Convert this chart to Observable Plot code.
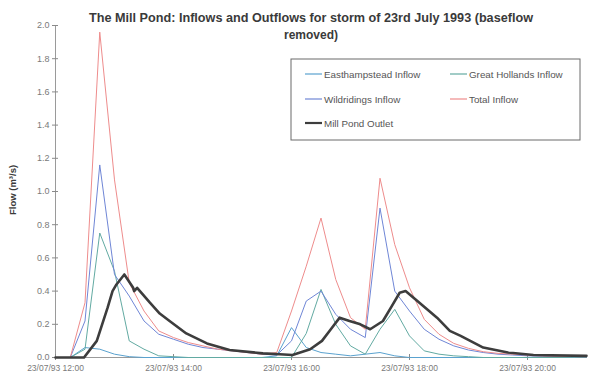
<!DOCTYPE html>
<html>
<head>
<meta charset="utf-8">
<script src="https://cdn.jsdelivr.net/npm/d3@7"></script>
<script src="https://cdn.jsdelivr.net/npm/@observablehq/plot@0.6"></script>
<style>
  html, body { margin: 0; padding: 0; background: #fff; }
  svg { display: block; }
</style>
</head>
<body>
<div id="chart"></div>
<script>
// ---- data ----
const titleLines = ["The Mill Pond: Inflows and Outflows for storm of 23rd July 1993 (baseflow", "removed)"];
const yLabel = "Flow (m\u00b3/s)";
const seriesNames = ["Easthampstead Inflow", "Great Hollands Inflow", "Wildridings Inflow", "Total Inflow", "Mill Pond Outlet"];

const inflowTimes = ["12:00","12:15","12:30","12:45","13:00","13:15","13:30","13:45","14:00","14:15","14:30","14:45",
  "15:00","15:15","15:30","15:45","16:00","16:15","16:30","16:45","17:00","17:15","17:30","17:45",
  "18:00","18:15","18:30","18:45","19:00","19:15","19:30","19:45","20:00","20:15","20:30","20:45","21:00"];
const easthampstead = [0,0,0.06,0.05,0.02,0.005,0,0,0,0,0,0,
  0,0,0,0.01,0.18,0.06,0.03,0.02,0.01,0.02,0.03,0.01,
  0,0,0,0,0,0,0,0,0,0,0,0,0];
const greatHollands = [0,0,0.05,0.75,0.52,0.10,0.05,0.01,0.005,0,0,0,
  0,0,0,0,0,0.145,0.41,0.20,0.07,0.02,0.17,0.29,
  0.13,0.04,0.02,0.01,0.005,0,0,0,0,0,0,0,0];
const wildridings = [0,0,0.22,1.16,0.50,0.37,0.22,0.14,0.11,0.08,0.06,0.05,
  0.04,0.03,0.02,0.015,0.10,0.34,0.40,0.26,0.17,0.12,0.90,0.40,
  0.28,0.17,0.11,0.07,0.045,0.03,0.02,0.015,0.01,0.008,0.006,0.005,0.004];
const totalInflow = [0,0,0.33,1.96,1.07,0.45,0.28,0.16,0.12,0.09,0.07,0.05,
  0.04,0.03,0.02,0.03,0.28,0.55,0.84,0.47,0.24,0.17,1.08,0.68,
  0.42,0.23,0.14,0.085,0.055,0.035,0.025,0.02,0.015,0.01,0.008,0.006,0.005];

const outletTimes = ["12:00","12:15","12:29","12:42","12:53","12:58","13:02","13:06","13:10","13:19","13:20","13:23",
  "13:36","13:46","13:56","14:13","14:34","14:57","15:31","15:48","16:01","16:19","16:31","16:40","16:49",
  "16:59","17:10","17:20","17:33","17:42","17:50","17:56","18:08","18:28","18:41","18:52","19:15","19:40","20:06","21:00"];
const outletFlow = [0,0,0,0.10,0.30,0.40,0.44,0.47,0.50,0.42,0.40,0.42,
  0.33,0.265,0.22,0.145,0.085,0.045,0.025,0.02,0.015,0.05,0.10,0.17,0.24,
  0.22,0.20,0.17,0.22,0.31,0.39,0.40,0.34,0.24,0.16,0.13,0.06,0.03,0.015,0.01];

const xTickTimes = ["12:00","14:00","16:00","18:00","20:00"];
const yTicks = [0,0.2,0.4,0.6,0.8,1.0,1.2,1.4,1.6,1.8,2.0];
const xDomainTimes = ["12:00","21:00"];
const yDomain = [0, 2.0];

// ---- helpers ----
const toDate = t => new Date(`1993-07-23T${t}:00Z`);
const fmt = d3.utcFormat("%d/%m/%y %H:%M");

const colors = {
  "Easthampstead Inflow": "#5aa2cf",
  "Great Hollands Inflow": "#62aaa2",
  "Wildridings Inflow": "#6f86d6",
  "Total Inflow": "#ee8c8c",
  "Mill Pond Outlet": "#3d3d3d"
};
const widths = {
  "Easthampstead Inflow": 1, "Great Hollands Inflow": 1, "Wildridings Inflow": 1,
  "Total Inflow": 1, "Mill Pond Outlet": 2.6
};

const inflowSeries = [
  [seriesNames[0], easthampstead],
  [seriesNames[1], greatHollands],
  [seriesNames[2], wildridings],
  [seriesNames[3], totalInflow]
];
const rows = [];
for (const [name, vals] of inflowSeries) {
  inflowTimes.forEach((t, i) => rows.push({series: name, time: toDate(t), flow: vals[i]}));
}
outletTimes.forEach((t, i) => rows.push({series: seriesNames[4], time: toDate(t), flow: outletFlow[i]}));

const font = "Arial, 'Liberation Sans', Helvetica, sans-serif";

const svg = Plot.plot({
  width: 589,
  height: 378,
  marginLeft: 55,
  marginRight: 3,
  marginTop: 25,
  marginBottom: 21,
  style: {fontFamily: font, fontSize: "9px", color: "#7a7a7a", background: "#fff"},
  x: {type: "utc", domain: xDomainTimes.map(toDate)},
  y: {domain: yDomain},
  marks: [
    Plot.ruleY([0], {stroke: "#9a9a9a", strokeWidth: 1}),
    Plot.ruleX([toDate(xDomainTimes[0])], {stroke: "#9a9a9a", strokeWidth: 1}),
    Plot.axisY({ticks: yTicks, tickFormat: d => d.toFixed(1), tickSize: 6, dx: 3, tickPadding: 3,
      label: null, stroke: "#8a8a8a", fill: "#7a7a7a"}),
    Plot.axisX({ticks: xTickTimes.map(toDate), tickFormat: fmt, tickSize: 6, dy: -3, tickPadding: 4,
      label: null, stroke: "#8a8a8a", fill: "#7a7a7a", fontSize: 8.5}),
    ...seriesNames.map(name => Plot.line(rows.filter(r => r.series === name), {
      x: "time", y: "flow", stroke: colors[name], strokeWidth: widths[name],
      strokeLinejoin: "round", curve: "linear"
    }))
  ]
});

document.getElementById("chart").appendChild(svg);

// ---- title, y label and legend (decorations) ----
const s = d3.select(svg);
const tg = s.append("g").attr("font-family", font).attr("font-weight", "bold").attr("fill", "#3a3a3a")
  .attr("text-anchor", "middle").attr("font-size", 12);
tg.append("text").attr("x", 311).attr("y", 22).attr("textLength", 444).attr("lengthAdjust", "spacingAndGlyphs").text(titleLines[0]);
tg.append("text").attr("x", 311).attr("y", 39).text(titleLines[1]);

s.append("text")
  .attr("transform", "translate(16,190) rotate(-90)")
  .attr("text-anchor", "middle")
  .attr("font-family", font).attr("font-weight", "bold").attr("font-size", 9.5).attr("fill", "#3a3a3a")
  .text(yLabel);

const lg = s.append("g").attr("font-family", font).attr("font-size", 9.8).attr("fill", "#555")
  .attr("text-anchor", "start");
lg.append("rect").attr("x", 291).attr("y", 59).attr("width", 289).attr("height", 81)
  .attr("fill", "#fff").attr("stroke", "#6a6a6a").attr("stroke-width", 1);
const legendItems = [
  {name: seriesNames[0], x: 305, y: 74},
  {name: seriesNames[1], x: 450, y: 74},
  {name: seriesNames[2], x: 305, y: 99},
  {name: seriesNames[3], x: 450, y: 99},
  {name: seriesNames[4], x: 305, y: 123}
];
for (const it of legendItems) {
  lg.append("line").attr("x1", it.x).attr("x2", it.x + 17).attr("y1", it.y).attr("y2", it.y)
    .attr("stroke", colors[it.name]).attr("stroke-width", widths[it.name] > 1 ? 2.2 : 1.2);
  lg.append("text").attr("x", it.x + 19).attr("y", it.y + 3.5).attr("text-anchor", "start").text(it.name);
}
</script>
</body>
</html>
